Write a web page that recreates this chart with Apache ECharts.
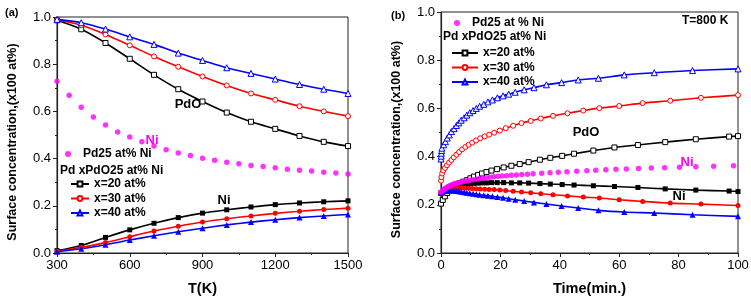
<!DOCTYPE html>
<html>
<head>
<meta charset="utf-8">
<script src="https://cdn.jsdelivr.net/npm/echarts@6/dist/echarts.min.js"></script>
<style>
  html, body { margin: 0; padding: 0; background: #fff; }
  #chart { width: 751px; height: 298px; }
</style>
</head>
<body>
<div id="chart"></div>
<script>
// ---- panel (a): surface concentration vs temperature ----
const tempK = [300, 400, 500, 600, 700, 800, 900, 1000, 1100, 1200, 1300, 1400, 1500]
const pdoX20T = [0.986, 0.948, 0.890, 0.823, 0.755, 0.694, 0.642, 0.595, 0.556, 0.526, 0.496, 0.471, 0.453]
const pdoX30T = [0.987, 0.965, 0.926, 0.880, 0.833, 0.789, 0.748, 0.710, 0.676, 0.649, 0.622, 0.600, 0.580]
const pdoX40T = [0.990, 0.976, 0.949, 0.916, 0.884, 0.847, 0.816, 0.785, 0.761, 0.737, 0.714, 0.694, 0.676]
const niX20T = [0.010, 0.032, 0.066, 0.098, 0.126, 0.150, 0.169, 0.183, 0.195, 0.205, 0.212, 0.217, 0.221]
const niX30T = [0.007, 0.024, 0.044, 0.069, 0.093, 0.113, 0.131, 0.145, 0.157, 0.168, 0.177, 0.184, 0.190]
const niX40T = [0.005, 0.018, 0.035, 0.055, 0.073, 0.090, 0.105, 0.119, 0.131, 0.141, 0.150, 0.157, 0.163]
const tempNi25 = [300, 350, 400, 450, 500, 550, 600, 650, 700, 750, 800, 850, 900, 950, 1000,
  1050, 1100, 1150, 1200, 1250, 1300, 1350, 1400, 1450, 1500]
const niPd25T = [0.728, 0.668, 0.618, 0.576, 0.542, 0.513, 0.491, 0.471, 0.453, 0.437, 0.424, 0.413, 0.402,
  0.393, 0.385, 0.378, 0.371, 0.366, 0.361, 0.355, 0.351, 0.347, 0.342, 0.339, 0.335]

// ---- panel (b): surface concentration vs time, T=800 K ----
const timeX20 = [0, 0.6, 1.3, 2.1, 3.0, 4.0, 5.1, 6.3, 7.5, 8.7, 9.9, 11.1, 12.5, 13.8, 15.3, 17.0, 18.9,
  21.1, 23.7, 26.5, 29.5, 33.3, 36.8, 40.8, 44.8, 51.3, 58.4, 66.3, 75.5, 85.8, 97, 100]
const pdoX20 = [0.205, 0.220, 0.235, 0.249, 0.262, 0.273, 0.283, 0.290, 0.296, 0.302, 0.310, 0.317, 0.324,
  0.330, 0.336, 0.342, 0.348, 0.355, 0.362, 0.369, 0.377, 0.387, 0.395, 0.403, 0.412, 0.425, 0.438, 0.448,
  0.460, 0.472, 0.483, 0.485]
const niX20 = [0.250, 0.255, 0.260, 0.265, 0.270, 0.274, 0.278, 0.281, 0.284, 0.286, 0.288, 0.289, 0.290,
  0.291, 0.291, 0.292, 0.292, 0.292, 0.291, 0.291, 0.290, 0.288, 0.286, 0.284, 0.282, 0.279, 0.276, 0.272,
  0.266, 0.261, 0.257, 0.255]

const timeX30 = [0, 0.15, 0.4, 0.8, 1.35, 2.0, 2.7, 3.5, 4.3, 5.2, 6.1, 7.1, 8.2, 9.3, 10.5, 11.8, 13.2,
  14.7, 16.2, 17.9, 19.8, 21.8, 24.3, 27.1, 30.2, 33.6, 37.7, 42.6, 47.9, 53.3, 60.0, 67.9, 77.2, 87.5, 100]
const pdoX30 = [0.300, 0.315, 0.330, 0.342, 0.353, 0.364, 0.375, 0.386, 0.397, 0.408, 0.419, 0.430, 0.440,
  0.449, 0.458, 0.467, 0.476, 0.484, 0.491, 0.499, 0.508, 0.518, 0.528, 0.539, 0.548, 0.558, 0.569, 0.580,
  0.591, 0.601, 0.610, 0.622, 0.632, 0.644, 0.655]
const niX30 = [0.250, 0.252, 0.255, 0.258, 0.261, 0.264, 0.266, 0.268, 0.269, 0.270, 0.270, 0.270, 0.270,
  0.269, 0.268, 0.267, 0.266, 0.265, 0.264, 0.263, 0.261, 0.259, 0.256, 0.253, 0.250, 0.246, 0.242, 0.237,
  0.232, 0.228, 0.221, 0.214, 0.207, 0.203, 0.197]

const timeX40 = [0, 0.05, 0.12, 0.2, 0.3, 0.9, 1.5, 2.1, 2.8, 3.5, 4.4, 5.2, 6.0, 6.8, 7.8, 8.7, 9.7, 10.8,
  11.9, 13.0, 14.4, 15.8, 17.3, 19.0, 20.9, 22.8, 25.0, 28.0, 31.3, 35.5, 40.6, 46.2, 53, 61.7, 71.8, 84.7, 100]
const pdoX40 = [0.390, 0.402, 0.414, 0.425, 0.435, 0.449, 0.462, 0.477, 0.490, 0.504, 0.516, 0.529, 0.540,
  0.551, 0.561, 0.572, 0.582, 0.591, 0.600, 0.609, 0.617, 0.627, 0.635, 0.644, 0.652, 0.659, 0.667, 0.677,
  0.686, 0.698, 0.707, 0.718, 0.725, 0.739, 0.748, 0.757, 0.764]
const niX40 = [0.250, 0.251, 0.252, 0.253, 0.254, 0.256, 0.258, 0.259, 0.259, 0.259, 0.258, 0.257, 0.256,
  0.254, 0.252, 0.250, 0.248, 0.246, 0.244, 0.242, 0.240, 0.238, 0.235, 0.232, 0.229, 0.225, 0.221, 0.216,
  0.210, 0.203, 0.195, 0.187, 0.177, 0.170, 0.166, 0.159, 0.152]

const timeNi25 = [0, 0.3, 0.6, 1, 1.4, 1.8, 2.3, 2.8, 3.3, 3.9, 4.5, 5.1, 5.8, 6.5, 7.3, 8.1, 9, 9.9, 10.9,
  11.9, 13, 14.1, 15.3, 16.5, 17.8, 19.2, 20.6, 22.1, 23.7, 25.4, 27.2, 29.1, 31, 33.9, 36.7, 39.5, 42.4,
  45.7, 49.1, 52.1, 55.5, 58.9, 62.4, 66.5, 70.8, 75.3, 80.3, 85.8, 91.8, 98.5]
const niPd25 = [0.252, 0.256, 0.260, 0.264, 0.268, 0.271, 0.275, 0.278, 0.281, 0.284, 0.287, 0.289, 0.292,
  0.294, 0.296, 0.298, 0.300, 0.302, 0.304, 0.306, 0.308, 0.310, 0.312, 0.314, 0.316, 0.318, 0.319, 0.321,
  0.323, 0.324, 0.326, 0.327, 0.329, 0.331, 0.333, 0.335, 0.337, 0.339, 0.341, 0.343, 0.345, 0.347, 0.349,
  0.351, 0.353, 0.354, 0.356, 0.358, 0.360, 0.362]

const FONT = 'Liberation Sans, Arial, sans-serif'
const BLACK = '#000000'
const RED = '#ff0000'
const BLUE = '#0000ff'
const MAGENTA = '#ff00ff'

function pairs (xs, ys) {
  return xs.map((x, i) => [x, ys[i]])
}

function curve (name, idx, xs, ys, color, symbol, open) {
  return {
    name,
    type: 'line',
    xAxisIndex: idx,
    yAxisIndex: idx,
    data: pairs(xs, ys),
    smooth: 0.3,
    symbol,
    symbolSize: symbol === 'triangle' ? 6 : 5,
    showAllSymbol: true,
    lineStyle: { color, width: 1.6 },
    itemStyle: open
      ? { color: '#ffffff', borderColor: color, borderWidth: 1 }
      : { color, borderColor: color, borderWidth: 0 },
    emphasis: { disabled: true },
    animation: false
  }
}

function dots (name, idx, xs, ys) {
  return {
    name,
    type: 'scatter',
    xAxisIndex: idx,
    yAxisIndex: idx,
    data: pairs(xs, ys),
    symbolSize: 5.5,
    itemStyle: { color: MAGENTA },
    z: 5,
    animation: false
  }
}

function xAxis (idx, min, max, interval, name) {
  return {
    type: 'value',
    gridIndex: idx,
    min, max, interval,
    name,
    nameLocation: 'middle',
    nameGap: 28,
    nameTextStyle: { fontFamily: FONT, fontWeight: 'bold', fontSize: 14.5, color: BLACK },
    axisLine: { onZero: false, lineStyle: { color: '#222', width: 1.2 } },
    axisTick: { inside: false, length: 4, lineStyle: { color: '#222' } },
    minorTick: { show: true, splitNumber: 2, length: 2, lineStyle: { color: '#222' } },
    axisLabel: { margin: 6, fontFamily: FONT, fontSize: 13, color: BLACK, formatter: v => String(v) },
    splitLine: { show: false }
  }
}

function yAxis (idx) {
  return {
    type: 'value',
    gridIndex: idx,
    min: 0, max: 1, interval: 0.2,
    name: 'Surface concentration,(x100 at%)',
    nameLocation: 'middle',
    nameGap: 38,
    nameTextStyle: { fontFamily: FONT, fontWeight: 'bold', fontSize: 12.5, color: BLACK, padding: [0, 14, 0, 0] },
    axisLine: { lineStyle: { color: '#222', width: 1.2 } },
    axisTick: { inside: false, length: 4, lineStyle: { color: '#222' } },
    minorTick: { show: true, splitNumber: 2, length: 2, lineStyle: { color: '#222' } },
    axisLabel: { margin: 6, fontFamily: FONT, fontSize: 13, color: BLACK, formatter: v => v.toFixed(1) },
    splitLine: { show: false }
  }
}

const legendText = { fontFamily: FONT, fontWeight: 'bold', fontSize: 12, color: BLACK }
const dotText = Object.assign({}, legendText, { padding: [0, 0, 0, 7] })
const lineNames = ['x=20 at%', 'x=30 at%', 'x=40 at%']

function label (text, x, y, fill) {
  return {
    type: 'text', x, y,
    style: { text, fill: fill || BLACK, font: 'bold 13px ' + FONT, align: 'center', verticalAlign: 'middle' }
  }
}

const option = {
  backgroundColor: '#ffffff',
  grid: [
    { left: 57, top: 17, width: 291, height: 236, outerBoundsMode: 'none', show: true, borderColor: '#222', borderWidth: 1 },
    { left: 441, top: 12, width: 297, height: 241, outerBoundsMode: 'none', show: true, borderColor: '#222', borderWidth: 1 }
  ],
  xAxis: [
    xAxis(0, 300, 1500, 300, 'T(K)'),
    xAxis(1, 0, 100, 20, 'Time(min.)')
  ],
  yAxis: [yAxis(0), yAxis(1)],
  legend: [
    { data: ['Pd25 at% Ni'], left: 65, top: 148, padding: 0, itemWidth: 6, itemHeight: 6, textStyle: dotText },
    { data: lineNames, orient: 'vertical', left: 70, top: 178, padding: 0, itemWidth: 18, itemHeight: 6, itemGap: 2.5, textStyle: legendText },
    { data: ['Pd25 at % Ni'], left: 454, top: 17, padding: 0, itemWidth: 6, itemHeight: 6, textStyle: dotText },
    { data: lineNames, orient: 'vertical', left: 451, top: 47, padding: 0, itemWidth: 26, itemHeight: 6, itemGap: 2.5, textStyle: legendText }
  ],
  graphic: [
    { type: 'text', left: 5, top: 7, style: { text: '(a)', font: 'bold 11px ' + FONT, fill: BLACK } },
    { type: 'text', left: 391, top: 10, style: { text: '(b)', font: 'bold 11px ' + FONT, fill: BLACK } },
    { type: 'text', left: 682, top: 15, style: { text: 'T=800 K', font: 'bold 12px ' + FONT, fill: BLACK } },
    { type: 'text', left: 60, top: 165, style: { text: 'Pd xPdO25 at% Ni', font: 'bold 12px ' + FONT, fill: BLACK } },
    { type: 'text', left: 443, top: 31, style: { text: 'Pd xPdO25 at% Ni', font: 'bold 12px ' + FONT, fill: BLACK } },
    label('PdO', 188, 104),
    label('Ni', 152, 140, MAGENTA),
    label('Ni', 224, 200),
    label('PdO', 586, 132),
    label('Ni', 687, 162, MAGENTA),
    label('Ni', 679, 196)
  ],
  series: [
    curve('x=20 at%', 0, tempK, pdoX20T, BLACK, 'rect', true),
    curve('x=30 at%', 0, tempK, pdoX30T, RED, 'circle', true),
    curve('x=40 at%', 0, tempK, pdoX40T, BLUE, 'triangle', true),
    curve('x=20 at%', 0, tempK, niX20T, BLACK, 'rect', false),
    curve('x=30 at%', 0, tempK, niX30T, RED, 'circle', false),
    curve('x=40 at%', 0, tempK, niX40T, BLUE, 'triangle', false),
    dots('Pd25 at% Ni', 0, tempNi25, niPd25T),
    curve('x=20 at%', 1, timeX20, pdoX20, BLACK, 'rect', true),
    curve('x=30 at%', 1, timeX30, pdoX30, RED, 'circle', true),
    curve('x=40 at%', 1, timeX40, pdoX40, BLUE, 'triangle', true),
    curve('x=20 at%', 1, timeX20, niX20, BLACK, 'rect', false),
    curve('x=30 at%', 1, timeX30, niX30, RED, 'circle', false),
    curve('x=40 at%', 1, timeX40, niX40, BLUE, 'triangle', false),
    dots('Pd25 at % Ni', 1, timeNi25, niPd25)
  ]
}

const chart = echarts.init(document.getElementById('chart'))
chart.setOption(option)
window.addEventListener('resize', () => {
  chart.resize()
})
</script>
</body>
</html>
